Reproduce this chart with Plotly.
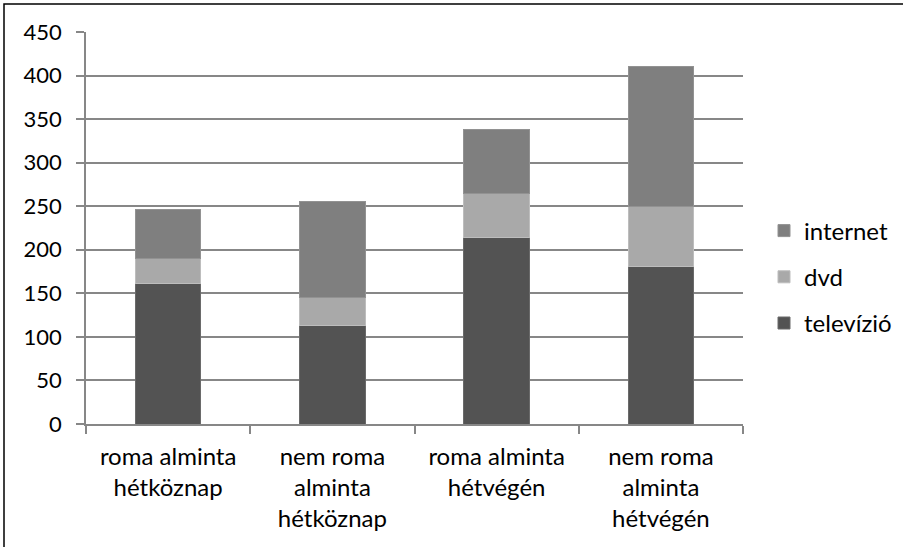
import plotly.graph_objects as go

categories = ["roma alminta<br>hétköznap", "nem roma<br>alminta<br>hétköznap",
              "roma alminta<br>hétvégén", "nem roma<br>alminta<br>hétvégén"]
televizio = [161, 113, 214, 181]
dvd = [29, 32, 51, 69]
internet = [56, 111, 73, 160]

fig = go.Figure()
fig.add_trace(go.Bar(name="televízió", x=categories, y=televizio, marker_color="#535353",
                     marker_line=dict(color="#6a6a6a", width=1), legendgroup="tv", legendrank=3))
fig.add_trace(go.Bar(name="dvd", x=categories, y=dvd, marker_color="#a9a9a9",
                     marker_line=dict(color="#bdbdbd", width=1), legendgroup="dvd", legendrank=2))
fig.add_trace(go.Bar(name="internet", x=categories, y=internet, marker_color="#7f7f7f",
                     marker_line=dict(color="#929292", width=1), legendgroup="net", legendrank=1))

font_family = "Lato, Carlito, 'Open Sans', sans-serif"
fig.update_layout(
    barmode="stack",
    bargap=0.6,
    width=903, height=547,
    margin=dict(l=86, r=160, t=32, b=123, autoexpand=False),
    paper_bgcolor="white", plot_bgcolor="white",
    font=dict(family=font_family, size=22, color="#000000"),
    legend=dict(traceorder="grouped", xref="container", yref="container",
                x=764 / 903, y=1 - 277 / 547, xanchor="left", yanchor="middle",
                font=dict(size=24), itemwidth=30, tracegroupgap=12,
                bgcolor="rgba(0,0,0,0)"),
    showlegend=True,
)
fig.update_yaxes(range=[0, 450], dtick=50, showgrid=True, gridcolor="#878787", gridwidth=1.5,
                 showline=True, linecolor="#878787", linewidth=1.5,
                 ticks="outside", ticklen=8, tickcolor="#878787", tickwidth=1.5,
                 ticklabelstandoff=10, zeroline=False, tickfont=dict(size=22))
fig.update_xaxes(showline=True, linecolor="#878787", linewidth=1.5,
                 ticks="outside", tickson="boundaries", ticklen=8, tickcolor="#878787", tickwidth=1.5,
                 ticklabelstandoff=10, showgrid=False, tickfont=dict(size=24))

# outer chart border
fig.add_shape(type="rect", xref="paper", yref="paper",
              x0=(4 - 86) / 657, x1=(912 - 86) / 657,
              y0=(424 - 560) / 392, y1=(424 - 4) / 392,
              line=dict(color="#000000", width=1.5), fillcolor="rgba(0,0,0,0)", layer="below")

fig.write_html("out.html", config={"displayModeBar": False},
               post_script="document.body.style.margin='0';document.body.style.overflow='hidden';")
